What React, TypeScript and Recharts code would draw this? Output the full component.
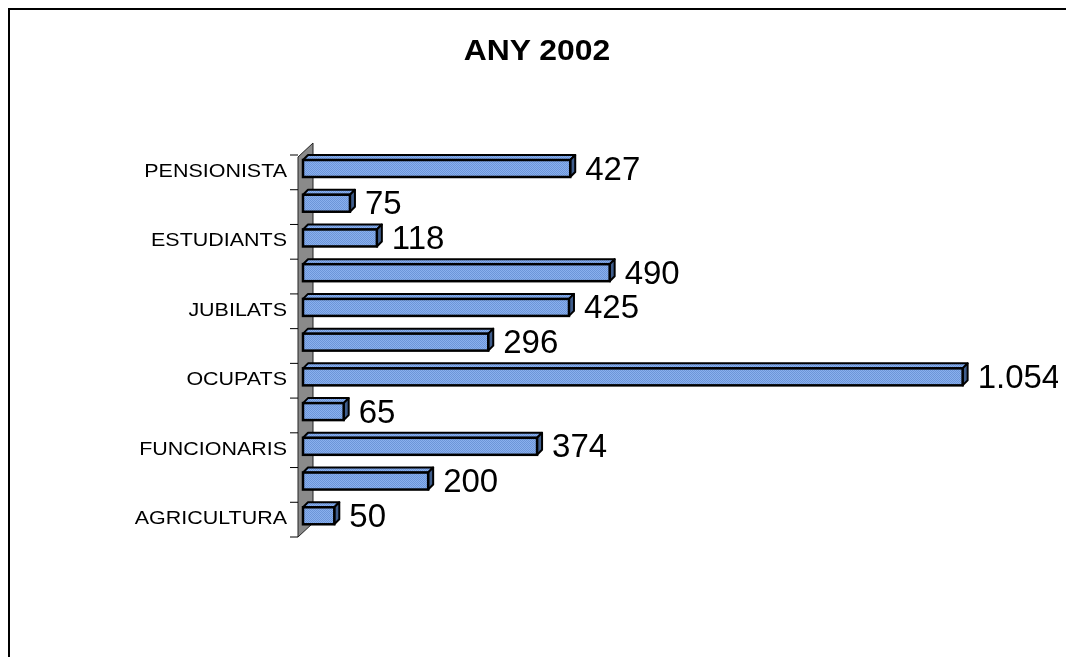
import React from 'react';
import { BarChart, Bar, XAxis, YAxis, ReferenceArea, LabelList } from 'recharts';

const categories = ['PENSIONISTA', '', 'ESTUDIANTS', '', 'JUBILATS', '', 'OCUPATS', '', 'FUNCIONARIS', '', 'AGRICULTURA'];
const values = [427, 75, 118, 490, 425, 296, 1054, 65, 374, 200, 50];
const title = 'ANY 2002';

const data = categories.map((name, i) => ({ name, value: values[i] }));

const CW = 1058;
const CH = 641;
const M = { top: 147, right: 12, bottom: 112, left: 135 };
const YW = 160;
const BAND = (CH - M.top - M.bottom) / categories.length;
const FONT = '"Liberation Sans", Arial, sans-serif';
const D = 5;

const fmt = (v: number) => String(v).replace(/\B(?=(\d{3})+(?!\d))/g, '.');

const Bar3D = (props: any) => {
  const { x, y, width, height, index } = props;
  const cy = y + height / 2;
  const top = cy - 12;
  const bot = cy + 5;
  const r = x + width;
  const pid = 'dotfill';
  return (
    <g>
      {index === 0 && (
        <defs>
          <pattern id={pid} width="2" height="2" patternUnits="userSpaceOnUse">
            <rect width="2" height="2" fill="#8ab0ee" />
            <rect width="1" height="1" fill="#6c95d8" />
            <rect x="1" y="1" width="1" height="1" fill="#6c95d8" />
          </pattern>
        </defs>
      )}
      <polygon
        points={`${x},${top} ${x + D},${top - D} ${r + D},${top - D} ${r},${top}`}
        fill={`url(#${pid})`}
        stroke="#000"
        strokeWidth={2}
        strokeLinejoin="round"
      />
      <polygon
        points={`${r},${top} ${r + D},${top - D} ${r + D},${bot - D} ${r},${bot}`}
        fill="#3f5d8c"
        stroke="#000"
        strokeWidth={2}
        strokeLinejoin="round"
      />
      <rect x={x} y={top} width={width} height={bot - top} fill={`url(#${pid})`} stroke="#000" strokeWidth={2.5} />
    </g>
  );
};

const Wall = (props: any) => {
  const { x, y, height } = props;
  const b = y + height;
  return (
    <polygon
      points={`${x - 5},${y + 2} ${x + 10},${y - 12} ${x + 10},${b - 14} ${x - 5},${b}`}
      fill="#8a8a8a"
      stroke="#222"
      strokeWidth={1}
    />
  );
};

const Tick = (props: any) => {
  const { x, y, payload, index } = props;
  const last = index === categories.length - 1;
  return (
    <g>
      <text
        transform={`translate(${x - 16},${y - 2}) scale(1.13,1)`}
        textAnchor="end"
        dominantBaseline="central"
        fontSize={19}
        fontFamily={FONT}
        fill="#000"
      >
        {payload.value}
      </text>
      <line x1={x - 13} x2={x - 5} y1={y - BAND / 2} y2={y - BAND / 2} stroke="#000" strokeWidth={1} />
      {last && <line x1={x - 13} x2={x - 5} y1={y + BAND / 2} y2={y + BAND / 2} stroke="#000" strokeWidth={1} />}
    </g>
  );
};

const ValueLabel = (props: any) => {
  const { x, y, width, height, value } = props;
  const cy = y + height / 2 - 4;
  return (
    <text x={x + width + D + 10} y={cy} dominantBaseline="central" fontSize={33} fontFamily={FONT} fill="#000">
      {fmt(value)}
    </text>
  );
};

export default function App() {
  return (
    <div style={{ position: 'relative', width: CW, height: CH }}>
      <div
        style={{
          position: 'fixed',
          top: 8,
          left: 8,
          right: 0,
          bottom: 0,
          borderTop: '2px solid #000',
          borderLeft: '2px solid #000',
          pointerEvents: 'none',
        }}
      />
      <div
        style={{
          position: 'absolute',
          top: 27,
          left: 0,
          width: CW,
          textAlign: 'center',
          fontFamily: FONT,
          fontWeight: 'bold',
          fontSize: 29,
          lineHeight: '30px',
          transform: 'scaleX(1.1)',
          transformOrigin: '529px 0',
        }}
      >
        {title}
      </div>
      <BarChart width={CW} height={CH} data={data} layout="vertical" margin={M}>
        <XAxis type="number" domain={[0, 1200]} hide />
        <YAxis
          type="category"
          dataKey="name"
          width={YW}
          interval={0}
          tickSize={0}
          tickMargin={0}
          axisLine={false}
          tickLine={false}
          tick={<Tick />}
        />
        <ReferenceArea x1={0} x2={1} shape={<Wall />} />
        <Bar dataKey="value" barSize={22} shape={<Bar3D />} isAnimationActive={false}>
          <LabelList dataKey="value" content={<ValueLabel />} />
        </Bar>
      </BarChart>
    </div>
  );
}
